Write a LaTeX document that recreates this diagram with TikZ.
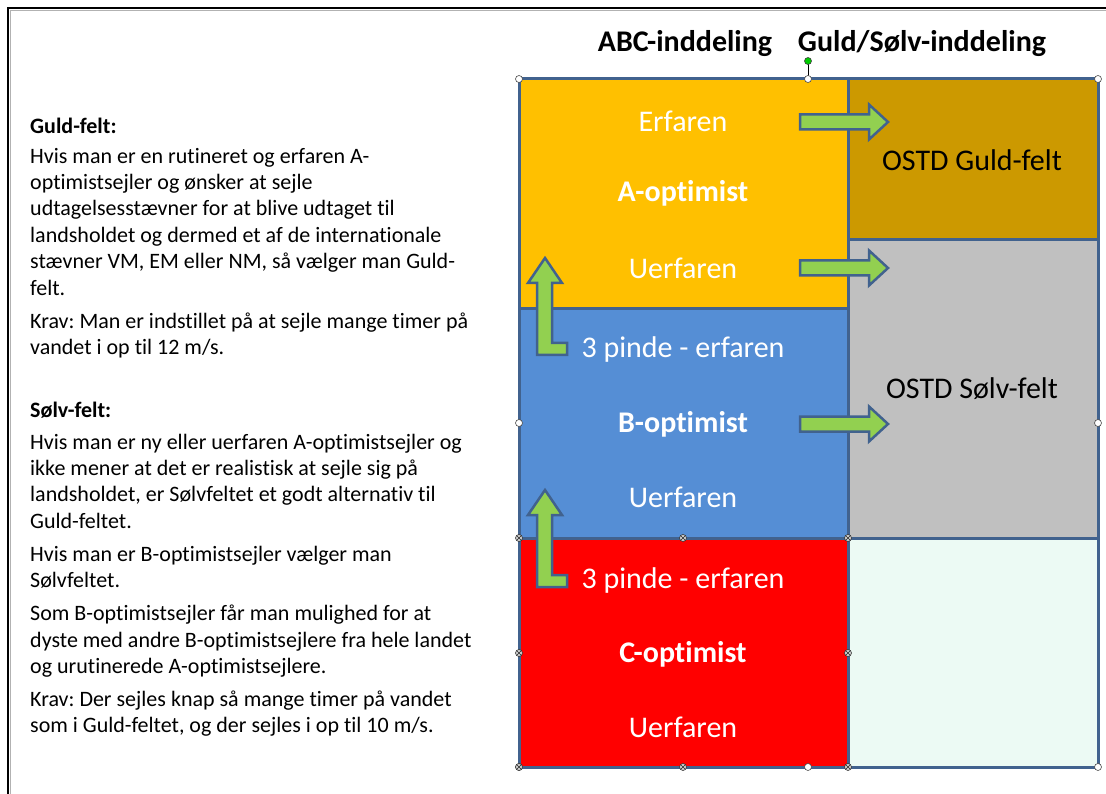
\documentclass[tikz,border=0pt]{standalone}
\usepackage{fontspec}
\setmainfont[Ligatures={NoCommon}]{Carlito}
\usetikzlibrary{positioning}
\frenchspacing

\definecolor{kant}{RGB}{65,98,142}
\definecolor{gulA}{RGB}{255,192,0}
\definecolor{blaaB}{RGB}{85,142,213}
\definecolor{roedC}{RGB}{255,0,0}
\definecolor{guldfarve}{RGB}{204,153,0}
\definecolor{soelvfarve}{RGB}{192,192,192}
\definecolor{mynte}{RGB}{236,250,244}
\definecolor{pilgroen}{RGB}{146,208,80}

\begin{document}
\begin{tikzpicture}[x=1pt,y=-1pt,
    felt/.style={draw=kant,line width=3pt},
    hvid/.style={text=white,font=\fontsize{30}{34}\selectfont},
    hvidfed/.style={text=white,font=\fontsize{30}{34}\selectfont\bfseries},
    sort/.style={text=black,font=\fontsize{30}{34}\selectfont},
    titel/.style={font=\fontsize{30}{34}\selectfont\bfseries},
    tekst/.style={align=left,anchor=north west,inner sep=0pt,font=\fontsize{22}{26.4}\selectfont},
    pil/.style={fill=pilgroen,draw=kant,line width=2.5pt,line join=miter},
    greb/.style={fill=white,draw=gray!60!black,line width=0.6pt},
    krydsgreb/.style={fill=gray!35,draw=gray!40!black,line width=0.6pt}]
  \useasboundingbox (0,0) rectangle (1106,794);
  % ramme
  \draw[gray!60,line width=1pt] (10.5,794) -- (10.5,10.5) -- (1106,10.5);
  \draw[line width=2pt] (8,794) -- (8,8) -- (1106,8);

  % felterne
  \filldraw[felt,fill=gulA] (519,79) rectangle (848,309);
  \filldraw[felt,fill=blaaB] (519,309) rectangle (848,538);
  \filldraw[felt,fill=roedC] (519,538) rectangle (848,767);
  \filldraw[felt,fill=guldfarve] (848,79) rectangle (1098,240);
  \filldraw[felt,fill=soelvfarve] (848,240) rectangle (1098,538);
  \filldraw[felt,fill=mynte] (848,538) rectangle (1098,767);

  % overskrifter
  \node[titel] (abc) at (685,44) {ABC-inddeling};
  \node[titel] (guldsoelv) at (922,44) {Guld/Sølv-inddeling};

  \node[hvid] (aerf) at (683,121) {Erfaren};
  \node[hvidfed] (aopt) at (683,193) {A-optimist};
  \node[hvid] (auerf) at (683,268) {Uerfaren};
  \node[hvid] (bpinde) at (683,350) {3 pinde - erfaren};
  \node[hvidfed] (bopt) at (683,424) {B-optimist};
  \node[hvid] (buerf) at (683,497) {Uerfaren};
  \node[hvid] (cpinde) at (683,580) {3 pinde - erfaren};
  \node[hvidfed] (copt) at (683,654) {C-optimist};
  \node[hvid] (cuerf) at (683,727) {Uerfaren};
  \node[sort] (guldfelt) at (972,160) {OSTD Guld-felt};
  \node[sort] (soelvfelt) at (972,389) {OSTD Sølv-felt};

  % pile
  \foreach \y in {122,268,424} {
    \draw[pil] (800,{\y-7.5}) -- (869,{\y-7.5}) -- (869,{\y-17.5}) -- (888,\y)
      -- (869,{\y+17.5}) -- (869,{\y+7.5}) -- (800,{\y+7.5}) -- cycle;
  }
  \foreach \y in {355,587} {
    \draw[pil] (537,\y) -- (567,\y) -- (567,{\y-12}) -- (552,{\y-12}) -- (552,{\y-72})
      -- (562,{\y-72}) -- (545,{\y-97}) -- (528,{\y-72}) -- (537,{\y-72}) -- cycle;
  }

  % markeringsgreb
  \draw[line width=0.6pt] (808,79) -- (808,61);
  \filldraw[fill=green!80!black,draw=gray!50!black,line width=0.6pt] (808,61) circle (3.5);
  \foreach \p in {(519,79),(808,79),(1098,79),(519,423),(1098,423),(519,767),(808,767),(1098,767)}
    \filldraw[greb] \p circle (3.5);
  \foreach \p in {(519,538),(683,538),(848,538),(519,653),(848,653),(519,767),(683,767),(848,767)} {
    \filldraw[krydsgreb] \p circle (3.5);
    \draw[gray!30!black,line width=0.4pt] \p ++(-2,-2) -- ++(4,4) \p ++(-2,2) -- ++(4,-4);
  }

  % forklaring
  \node[tekst] (guldtxt) at (30,117.5) {\textbf{Guld-felt:}\\[3.6pt]
    Hvis man er en rutineret og erfaren A-\\
    optimistsejler og ønsker at sejle\\
    udtagelsesstævner for at blive udtaget til\\
    landsholdet og dermed et af de internationale\\
    stævner VM, EM eller NM, så vælger man Guld-\\
    felt.\\[6.6pt]
    Krav: Man er indstillet på at sejle mange timer på\\
    vandet i op til 12 m/s.};
  \node[tekst] (soelvtxt) at (30,401.5) {\textbf{Sølv-felt:}\\[5.6pt]
    Hvis man er ny eller uerfaren A-optimistsejler og\\
    ikke mener at det er realistisk at sejle sig på\\
    landsholdet, er Sølvfeltet et godt alternativ til\\
    Guld-feltet.\\[6.6pt]
    Hvis man er B-optimistsejler vælger man\\
    Sølvfeltet.\\[6.6pt]
    Som B-optimistsejler får man mulighed for at\\
    dyste med andre B-optimistsejlere fra hele landet\\
    og urutinerede A-optimistsejlere.\\[6.6pt]
    Krav: Der sejles knap så mange timer på vandet\\
    som i Guld-feltet, og der sejles i op til 10 m/s.};
\end{tikzpicture}
\end{document}
